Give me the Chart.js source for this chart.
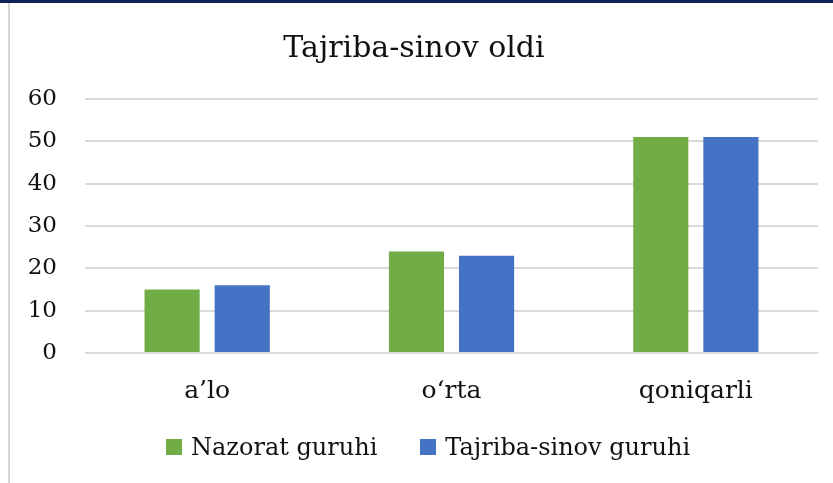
<!DOCTYPE html>
<html lang="uz">
<head>
    <meta charset="UTF-8">
    <title>Tajriba-sinov oldi</title>
    <script src="https://cdn.jsdelivr.net/npm/chart.js"></script>
    <style>
        body { margin: 0; padding: 0; background: #fff; }
        .frame { position: relative; width: 833px; height: 483px; overflow: hidden; }
        .topbar { position: absolute; left: 0; top: 0; width: 833px; height: 3px; background: #0b2358; }
        .leftline { position: absolute; left: 8px; top: 3px; width: 2px; height: 480px; background: #d6d6d6; }
        .chart-box { position: absolute; left: 0; top: 0; width: 833px; height: 483px; }
        .legend { position: absolute; left: 166px; top: 431px; display: flex; align-items: center;
                  font-family: 'DejaVu Serif', 'Liberation Serif', serif; font-size: 24px; color: #111; line-height: 32px; }
        .legend .item { display: flex; align-items: center; margin-right: 43px; white-space: nowrap; }
        .legend .box { width: 16px; height: 16px; margin-right: 9px; }
    </style>
</head>
<body>
<div class="frame">
    <div class="chart-box"><canvas id="barChart" width="833" height="483"></canvas></div>
    <div class="legend" id="legend"></div>
    <div class="topbar"></div>
    <div class="leftline"></div>
</div>

<script>
    let categories = ["a\u2019lo", "o\u2018rta", "qoniqarli"];
    let nazorat = [15, 24, 51];
    let tajriba = [16, 23, 51];
    let seriesNames = ["Nazorat guruhi", "Tajriba-sinov guruhi"];
    let seriesColors = ["#70ad47", "#4472c4"];
    let yTicks = [0, 10, 20, 30, 40, 50, 60];

    const fontFamily = "'DejaVu Serif', 'Liberation Serif', serif";

    let barChart = new Chart(document.getElementById("barChart").getContext("2d"), {
        type: "bar",
        data: {
            labels: categories,
            datasets: [
                { label: seriesNames[0], data: nazorat, backgroundColor: seriesColors[0] },
                { label: seriesNames[1], data: tajriba, backgroundColor: seriesColors[1] }
            ]
        },
        options: {
            responsive: false,
            animation: false,
            devicePixelRatio: 1,
            layout: { padding: { left: 10, right: 15, top: 0, bottom: 62 } },
            datasets: { bar: { categoryPercentage: 0.574, barPercentage: 0.786 } },
            plugins: {
                title: {
                    display: true,
                    text: "Tajriba-sinov oldi",
                    color: "#111",
                    font: { family: fontFamily, size: 30, weight: "normal" },
                    padding: { top: 31, bottom: 32 }
                },
                legend: { display: false },
                tooltip: { enabled: false }
            },
            scales: {
                x: {
                    grid: { display: false },
                    border: { display: false },
                    ticks: { color: "#111", font: { family: fontFamily, size: 25 }, padding: 15 }
                },
                y: {
                    min: 0,
                    max: 60,
                    afterBuildTicks: axis => { axis.ticks = yTicks.map(v => ({ value: v })); },
                    afterFit: axis => { axis.width = 75; },
                    grid: { color: "#d9d9d9", lineWidth: 2, drawTicks: false },
                    border: { display: false },
                    ticks: { color: "#111", font: { family: fontFamily, size: 23 }, padding: 28 }
                }
            }
        }
    });

    // legend drawn as html so the spacing can follow the original
    let legend = document.getElementById("legend");
    barChart.data.datasets.forEach((ds, i) => {
        let item = document.createElement("div");
        item.className = "item";
        item.innerHTML = `<span class="box" style="background:${seriesColors[i]}"></span><span>${ds.label}</span>`;
        legend.appendChild(item);
    });
</script>
</body>
</html>
